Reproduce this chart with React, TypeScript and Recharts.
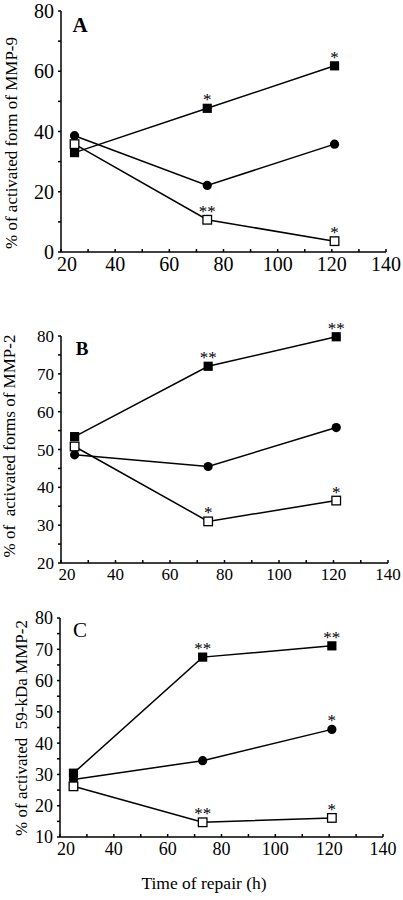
import React from 'react';
import { LineChart, Line, XAxis, YAxis, LabelList } from 'recharts';

// ---- data ----
const hoursAB = [25, 74, 121];
const hoursC = [25, 73, 121];

const aFilled = [33, 47.7, 61.8];
const aCircle = [38.6, 22.1, 35.8];
const aOpen = [35.8, 10.7, 3.6];
const aFilledSig = ['', '*', '*'];
const aCircleSig = ['', '', ''];
const aOpenSig = ['', '**', '*'];

const bFilled = [53.4, 72, 79.8];
const bCircle = [48.6, 45.5, 55.8];
const bOpen = [50.8, 31, 36.5];
const bFilledSig = ['', '**', '**'];
const bCircleSig = ['', '', ''];
const bOpenSig = ['', '*', '*'];

const cFilled = [30.4, 67.5, 71.1];
const cCircle = [28.4, 34.4, 44.4];
const cOpen = [26.2, 14.7, 16.1];
const cFilledSig = ['', '**', '**'];
const cCircleSig = ['', '', '*'];
const cOpenSig = ['', '**', '*'];

const xTicks = [20, 30, 40, 50, 60, 70, 80, 90, 100, 110, 120, 130, 140];
const aYTicks = [0, 10, 20, 30, 40, 50, 60, 70, 80];
const bYTicks = [20, 25, 30, 35, 40, 45, 50, 55, 60, 65, 70, 75, 80];
const cYTicks = [10, 15, 20, 25, 30, 35, 40, 45, 50, 55, 60, 65, 70, 75, 80];

const FONT = 'Liberation Serif';

function rows(hours, filled, circle, open, fs, cs, os) {
  return hours.map((h, i) => ({
    h,
    filled: filled[i],
    circle: circle[i],
    open: open[i],
    fs: fs[i],
    cs: cs[i],
    os: os[i],
  }));
}

const dataA = rows(hoursAB, aFilled, aCircle, aOpen, aFilledSig, aCircleSig, aOpenSig);
const dataB = rows(hoursAB, bFilled, bCircle, bOpen, bFilledSig, bCircleSig, bOpenSig);
const dataC = rows(hoursC, cFilled, cCircle, cOpen, cFilledSig, cCircleSig, cOpenSig);

const FilledSquare = (p: any) => (
  <rect key={`fs${p.index}`} x={p.cx - 4.6} y={p.cy - 4.6} width={9.2} height={9.2} fill="#000" />
);
const OpenSquare = (p: any) => (
  <rect key={`os${p.index}`} x={p.cx - 4.3} y={p.cy - 4.3} width={8.6} height={8.6} fill="#fff" stroke="#000" strokeWidth={1.3} />
);
const Dot = (p: any) => <circle key={`c${p.index}`} cx={p.cx} cy={p.cy} r={4.6} fill="#000" />;

const Star = (p: any) => {
  if (!p.value) return null;
  return (
    <text x={p.x} y={p.y - 3} textAnchor="middle" fontFamily={FONT} fontSize={17} fill="#000">
      {p.value}
    </text>
  );
};

const YTitle = ({ tx, ty, text, letter, lx, ly, bold, lsize }: any) => (
  <g>
    <text
      x={tx}
      y={ty}
      transform={`rotate(-90, ${tx}, ${ty})`}
      textAnchor="middle"
      fontFamily={FONT}
      fontSize={17}
      fill="#000"
      style={{ whiteSpace: 'pre' }}
    >
      {text}
    </text>
    <text x={lx} y={ly} textAnchor="middle" fontFamily={FONT} fontSize={lsize} fontWeight={bold ? 'bold' : 'normal'} fill="#000">
      {letter}
    </text>
  </g>
);

const XTitle = () => (
  <text x={204} y={289} textAnchor="middle" fontFamily={FONT} fontSize={17.5} fill="#000">
    Time of repair (h)
  </text>
);

const makeXTick = (fontSize: number) => (p: any) => {
  const v = p.payload.value;
  if (v % 20 !== 0) return null;
  const nudge = v === 20 ? 6 : 0;
  return (
    <text x={p.x + nudge} y={p.y} dy="0.71em" textAnchor="middle" fontFamily={FONT} fontSize={fontSize} fill="#000">
      {String(v)}
    </text>
  );
};

const y20Fmt = (v: number) => (v % 20 === 0 ? String(v) : '');
const y10Fmt = (v: number) => (v % 10 === 0 ? String(v) : '');

function Panel({ data, height, margin, yw, yDomain, yTicks, yFmt, xAxisHeight, fontSize, yTitle, xTitle }: any) {
  return (
    <LineChart width={403} height={height} data={data} margin={margin}>
      <XAxis
        dataKey="h"
        type="number"
        domain={[20, 140]}
        ticks={xTicks}
        interval={0}
        height={xAxisHeight}
        stroke="#000"
        strokeWidth={1.5}
        tickSize={-3}
        tickMargin={8}
        tick={makeXTick(fontSize)}
        label={xTitle}
      />
      <YAxis
        type="number"
        domain={yDomain}
        ticks={yTicks}
        tickFormatter={yFmt}
        interval={0}
        width={yw}
        stroke="#000"
        strokeWidth={1.5}
        tickSize={3}
        tickMargin={4}
        tick={{ fontSize, fill: '#000', fontFamily: FONT }}
        label={yTitle}
      />
      <Line dataKey="circle" stroke="#000" strokeWidth={1.5} dot={Dot} activeDot={false} isAnimationActive={false}>
        <LabelList dataKey="cs" content={Star} />
      </Line>
      <Line dataKey="filled" stroke="#000" strokeWidth={1.5} dot={FilledSquare} activeDot={false} isAnimationActive={false}>
        <LabelList dataKey="fs" content={Star} />
      </Line>
      <Line dataKey="open" stroke="#000" strokeWidth={1.5} dot={OpenSquare} activeDot={false} isAnimationActive={false}>
        <LabelList dataKey="os" content={Star} />
      </Line>
    </LineChart>
  );
}

export default function App() {
  return (
    <div style={{ position: 'absolute', left: 0, top: 0, width: 403, height: 900, background: '#fff', fontFamily: FONT }}>
      <div style={{ position: 'absolute', left: 0, top: 0 }}>
        <Panel
          data={dataA}
          height={290}
          margin={{ top: 11, right: 17, left: 0, bottom: 0 }}
          yw={61}
          yDomain={[0, 80]}
          yTicks={aYTicks}
          yFmt={y20Fmt}
          xAxisHeight={38}
          fontSize={20}
          yTitle={<YTitle tx={17} ty={143} text="% of activated form of MMP-9" letter="A" lx={80} ly={32} bold lsize={21} />}
        />
      </div>
      <div style={{ position: 'absolute', left: 0, top: 290 }}>
        <Panel
          data={dataB}
          height={310}
          margin={{ top: 46, right: 15, left: 0, bottom: 0 }}
          yw={61}
          yDomain={[20, 80]}
          yTicks={bYTicks}
          yFmt={y10Fmt}
          xAxisHeight={37}
          fontSize={17}
          yTitle={<YTitle tx={15} ty={156} text="% of  activated forms of MMP-2" letter="B" lx={82} ly={65} bold lsize={19} />}
        />
      </div>
      <div style={{ position: 'absolute', left: 0, top: 600 }}>
        <Panel
          data={dataC}
          height={300}
          margin={{ top: 18, right: 20, left: 0, bottom: 0 }}
          yw={60}
          yDomain={[10, 80]}
          yTicks={cYTicks}
          yFmt={y10Fmt}
          xAxisHeight={63}
          fontSize={18}
          yTitle={<YTitle tx={27} ty={128} text="% of activated  59-kDa MMP-2" letter="C" lx={80} ly={37} bold={false} lsize={21} />}
          xTitle={<XTitle />}
        />
      </div>
    </div>
  );
}
